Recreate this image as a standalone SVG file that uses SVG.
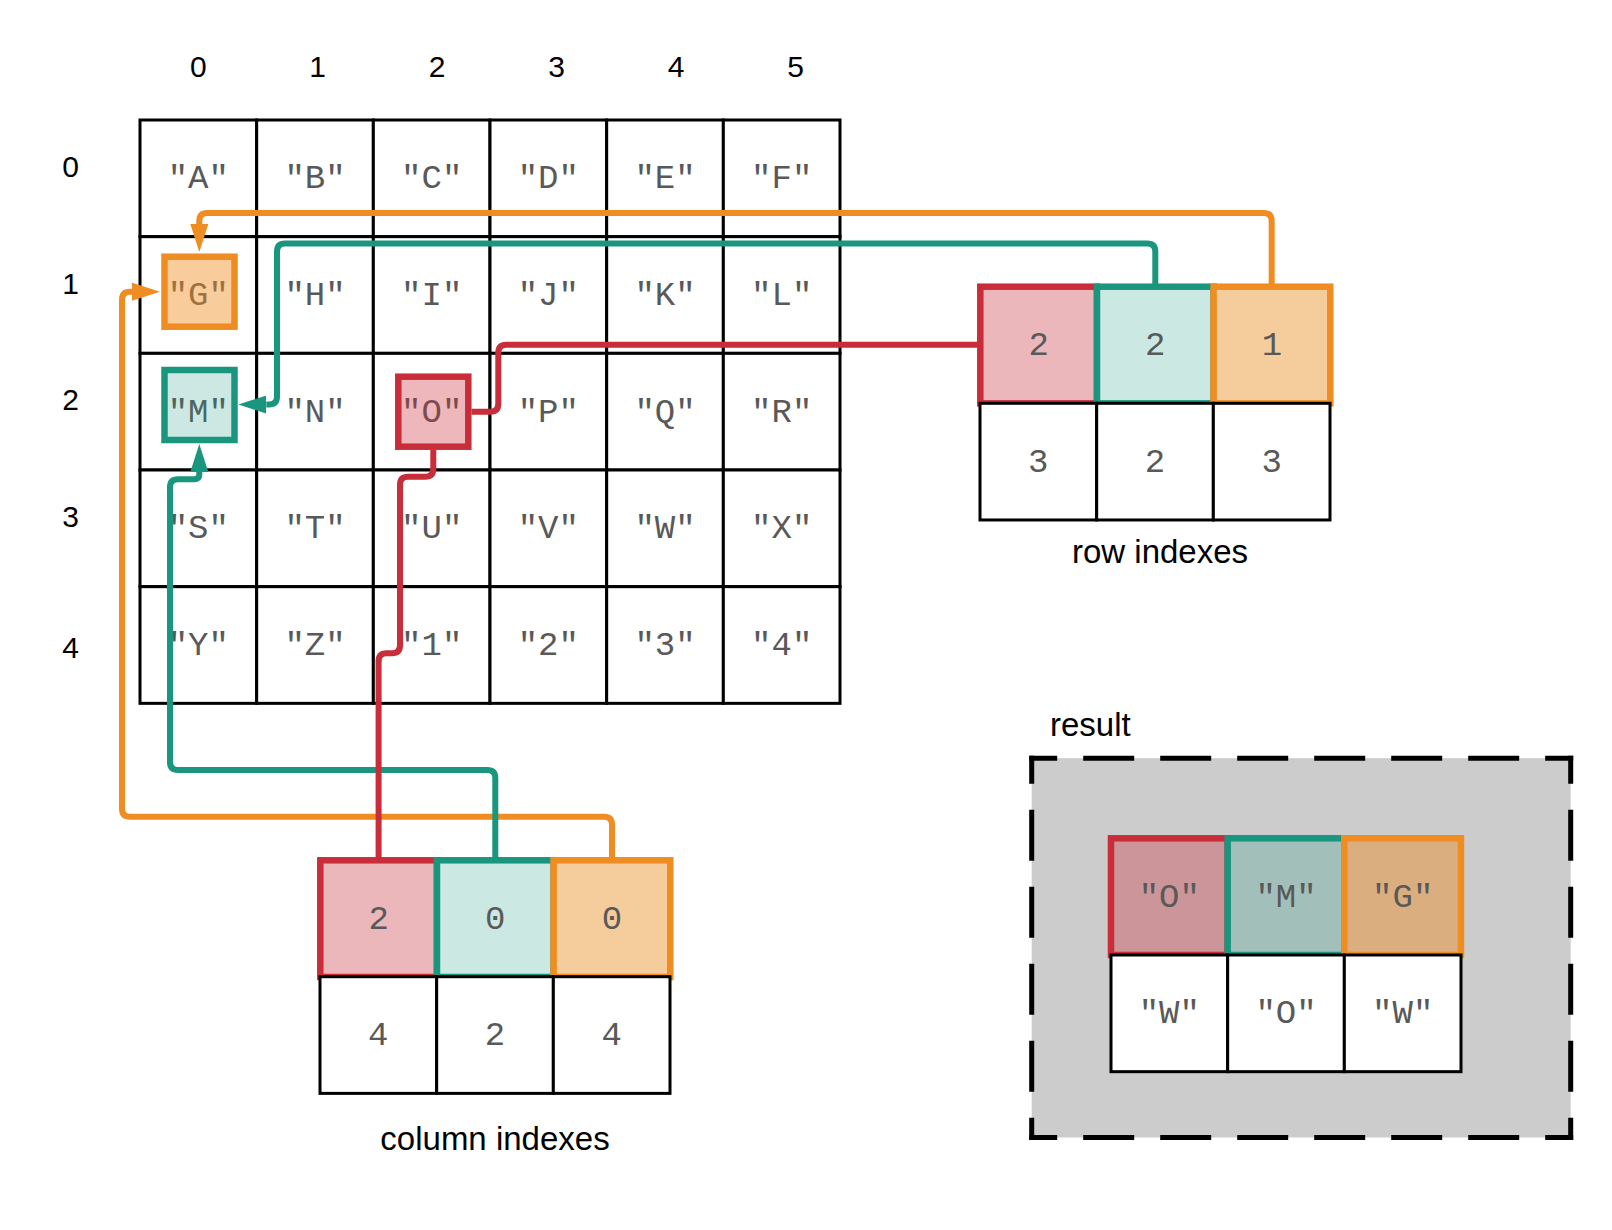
<svg xmlns="http://www.w3.org/2000/svg" width="1612" height="1230" viewBox="0 0 1612 1230">
<style>
.cell{fill:#fff;stroke:#000;stroke-width:3}
.mono{font-family:"Liberation Mono","DejaVu Sans Mono",monospace;font-size:34px;fill:#595959;text-anchor:middle}
.lbl{font-family:"Liberation Sans",Arial,sans-serif;font-size:30px;fill:#000;text-anchor:middle}
.cap{font-family:"Liberation Sans",Arial,sans-serif;font-size:33px;fill:#000}
.conn{fill:none;stroke-width:6;stroke-linejoin:round}
.red{stroke:#C92D39}
.teal{stroke:#1B967E}
.orange{stroke:#EF8D22}
.box{stroke-width:6.5}
.dash{stroke:#000;stroke-width:5;stroke-dasharray:51 26;stroke-dashoffset:23;fill:none}
</style>
<defs>
<marker id="arrO" markerUnits="userSpaceOnUse" markerWidth="28" markerHeight="18" refX="0" refY="9" orient="auto"><path d="M0,0 L28,9 L0,18 Z" fill="#EF8D22"/></marker>
<marker id="arrT" markerUnits="userSpaceOnUse" markerWidth="28" markerHeight="18" refX="0" refY="9" orient="auto"><path d="M0,0 L28,9 L0,18 Z" fill="#1B967E"/></marker>
</defs>
<rect width="1612" height="1230" fill="#fff"/>

<g id="col-labels" class="lbl">
<text x="198.3" y="77.3">0</text><text x="317.7" y="77.3">1</text><text x="437" y="77.3">2</text><text x="556.5" y="77.3">3</text><text x="676" y="77.3">4</text><text x="795.5" y="77.3">5</text>
</g>
<g id="row-labels" class="lbl">
<text x="70.7" y="177">0</text><text x="70.7" y="293.5">1</text><text x="70.7" y="410">2</text><text x="70.7" y="527">3</text><text x="70.7" y="657.5">4</text>
</g>

<g id="grid">
<g id="cell-0-0"><rect class="cell" x="140" y="120" width="116.67" height="116.67"/><text class="mono" x="198.3" y="188.3">"A"</text></g>
<g id="cell-0-1"><rect class="cell" x="256.67" y="120" width="116.67" height="116.67"/><text class="mono" x="315" y="188.3">"B"</text></g>
<g id="cell-0-2"><rect class="cell" x="373.33" y="120" width="116.67" height="116.67"/><text class="mono" x="431.7" y="188.3">"C"</text></g>
<g id="cell-0-3"><rect class="cell" x="490" y="120" width="116.67" height="116.67"/><text class="mono" x="548.3" y="188.3">"D"</text></g>
<g id="cell-0-4"><rect class="cell" x="606.67" y="120" width="116.67" height="116.67"/><text class="mono" x="665" y="188.3">"E"</text></g>
<g id="cell-0-5"><rect class="cell" x="723.33" y="120" width="116.67" height="116.67"/><text class="mono" x="781.7" y="188.3">"F"</text></g>

<g id="cell-1-0"><rect class="cell" x="140" y="236.67" width="116.67" height="116.67"/><text class="mono" x="198.3" y="305">"G"</text></g>
<g id="cell-1-1"><rect class="cell" x="256.67" y="236.67" width="116.67" height="116.67"/><text class="mono" x="315" y="305">"H"</text></g>
<g id="cell-1-2"><rect class="cell" x="373.33" y="236.67" width="116.67" height="116.67"/><text class="mono" x="431.7" y="305">"I"</text></g>
<g id="cell-1-3"><rect class="cell" x="490" y="236.67" width="116.67" height="116.67"/><text class="mono" x="548.3" y="305">"J"</text></g>
<g id="cell-1-4"><rect class="cell" x="606.67" y="236.67" width="116.67" height="116.67"/><text class="mono" x="665" y="305">"K"</text></g>
<g id="cell-1-5"><rect class="cell" x="723.33" y="236.67" width="116.67" height="116.67"/><text class="mono" x="781.7" y="305">"L"</text></g>

<g id="cell-2-0"><rect class="cell" x="140" y="353.33" width="116.67" height="116.67"/><text class="mono" x="198.3" y="421.7">"M"</text></g>
<g id="cell-2-1"><rect class="cell" x="256.67" y="353.33" width="116.67" height="116.67"/><text class="mono" x="315" y="421.7">"N"</text></g>
<g id="cell-2-2"><rect class="cell" x="373.33" y="353.33" width="116.67" height="116.67"/><text class="mono" x="431.7" y="421.7">"O"</text></g>
<g id="cell-2-3"><rect class="cell" x="490" y="353.33" width="116.67" height="116.67"/><text class="mono" x="548.3" y="421.7">"P"</text></g>
<g id="cell-2-4"><rect class="cell" x="606.67" y="353.33" width="116.67" height="116.67"/><text class="mono" x="665" y="421.7">"Q"</text></g>
<g id="cell-2-5"><rect class="cell" x="723.33" y="353.33" width="116.67" height="116.67"/><text class="mono" x="781.7" y="421.7">"R"</text></g>

<g id="cell-3-0"><rect class="cell" x="140" y="470" width="116.67" height="116.67"/><text class="mono" x="198.3" y="538.3">"S"</text></g>
<g id="cell-3-1"><rect class="cell" x="256.67" y="470" width="116.67" height="116.67"/><text class="mono" x="315" y="538.3">"T"</text></g>
<g id="cell-3-2"><rect class="cell" x="373.33" y="470" width="116.67" height="116.67"/><text class="mono" x="431.7" y="538.3">"U"</text></g>
<g id="cell-3-3"><rect class="cell" x="490" y="470" width="116.67" height="116.67"/><text class="mono" x="548.3" y="538.3">"V"</text></g>
<g id="cell-3-4"><rect class="cell" x="606.67" y="470" width="116.67" height="116.67"/><text class="mono" x="665" y="538.3">"W"</text></g>
<g id="cell-3-5"><rect class="cell" x="723.33" y="470" width="116.67" height="116.67"/><text class="mono" x="781.7" y="538.3">"X"</text></g>

<g id="cell-4-0"><rect class="cell" x="140" y="586.67" width="116.67" height="116.67"/><text class="mono" x="198.3" y="655">"Y"</text></g>
<g id="cell-4-1"><rect class="cell" x="256.67" y="586.67" width="116.67" height="116.67"/><text class="mono" x="315" y="655">"Z"</text></g>
<g id="cell-4-2"><rect class="cell" x="373.33" y="586.67" width="116.67" height="116.67"/><text class="mono" x="431.7" y="655">"1"</text></g>
<g id="cell-4-3"><rect class="cell" x="490" y="586.67" width="116.67" height="116.67"/><text class="mono" x="548.3" y="655">"2"</text></g>
<g id="cell-4-4"><rect class="cell" x="606.67" y="586.67" width="116.67" height="116.67"/><text class="mono" x="665" y="655">"3"</text></g>
<g id="cell-4-5"><rect class="cell" x="723.33" y="586.67" width="116.67" height="116.67"/><text class="mono" x="781.7" y="655">"4"</text></g>
</g>

<g id="hl-G"><rect class="orange box" x="164.5" y="256.7" width="70" height="70" fill="#EF8D22" fill-opacity="0.45"/></g>
<g id="hl-M"><rect class="teal box" x="164.5" y="370" width="70" height="70" fill="#1B967E" fill-opacity="0.22"/></g>
<g id="hl-O"><rect class="red box" x="398.3" y="376.7" width="70" height="70" fill="#C92D39" fill-opacity="0.34"/></g>

<g id="row-indexes">
<g id="ri-0"><rect class="red box" x="980.3" y="286.7" width="116.67" height="116.67" fill="#EBB7BB"/><text class="mono" x="1038.6" y="355">2</text></g>
<g id="ri-1"><rect class="teal box" x="1097" y="286.7" width="116.67" height="116.67" fill="#CCE8E2"/><text class="mono" x="1155.3" y="355">2</text></g>
<g id="ri-2"><rect class="orange box" x="1213.6" y="286.7" width="116.67" height="116.67" fill="#F5CC9B"/><text class="mono" x="1272" y="355">1</text></g>
<g id="ri-3"><rect class="cell" x="980" y="403.3" width="116.67" height="116.67"/><text class="mono" x="1038.3" y="472">3</text></g>
<g id="ri-4"><rect class="cell" x="1096.67" y="403.3" width="116.67" height="116.67"/><text class="mono" x="1155" y="472">2</text></g>
<g id="ri-5"><rect class="cell" x="1213.33" y="403.3" width="116.67" height="116.67"/><text class="mono" x="1271.7" y="472">3</text></g>
<text class="cap" x="1160" y="563.3" text-anchor="middle">row indexes</text>
</g>

<g id="column-indexes">
<g id="ci-0"><rect class="red box" x="320.3" y="860.3" width="116.67" height="116.67" fill="#EBB7BB"/><text class="mono" x="378.6" y="928.5">2</text></g>
<g id="ci-1"><rect class="teal box" x="437" y="860.3" width="116.67" height="116.67" fill="#CCE8E2"/><text class="mono" x="495.3" y="928.5">0</text></g>
<g id="ci-2"><rect class="orange box" x="553.6" y="860.3" width="116.67" height="116.67" fill="#F5CC9B"/><text class="mono" x="612" y="928.5">0</text></g>
<g id="ci-3"><rect class="cell" x="320" y="976.7" width="116.67" height="116.67"/><text class="mono" x="378.3" y="1045">4</text></g>
<g id="ci-4"><rect class="cell" x="436.67" y="976.7" width="116.67" height="116.67"/><text class="mono" x="495" y="1045">2</text></g>
<g id="ci-5"><rect class="cell" x="553.33" y="976.7" width="116.67" height="116.67"/><text class="mono" x="611.7" y="1045">4</text></g>
<text class="cap" x="495" y="1150" text-anchor="middle">column indexes</text>
</g>

<g id="result">
<text class="cap" x="1050" y="736">result</text>
<rect x="1031.7" y="758.2" width="539" height="379.3" fill="#CCCCCC"/>
<path class="dash" d="M1029.2,758.2 H1573.2"/>
<path class="dash" d="M1031.7,755.7 V1140"/>
<path class="dash" d="M1570.7,755.7 V1140"/>
<path class="dash" d="M1029.2,1137.5 H1573.2"/>
<g id="res-0"><rect class="red box" x="1111" y="838.3" width="116.67" height="116.67" fill="#CC9599"/><text class="mono" x="1169.3" y="906.7">"O"</text></g>
<g id="res-1"><rect class="teal box" x="1227.7" y="838.3" width="116.67" height="116.67" fill="#A3BFB9"/><text class="mono" x="1286" y="906.7">"M"</text></g>
<g id="res-2"><rect class="orange box" x="1344.3" y="838.3" width="116.67" height="116.67" fill="#DBAE80"/><text class="mono" x="1402.7" y="906.7">"G"</text></g>
<g id="res-3"><rect class="cell" x="1111" y="955" width="116.67" height="116.67"/><text class="mono" x="1169.3" y="1023">"W"</text></g>
<g id="res-4"><rect class="cell" x="1227.67" y="955" width="116.67" height="116.67"/><text class="mono" x="1286" y="1023">"O"</text></g>
<g id="res-5"><rect class="cell" x="1344.33" y="955" width="116.67" height="116.67"/><text class="mono" x="1402.7" y="1023">"W"</text></g>
</g>

<g id="connectors">
<path class="conn orange" d="M1271.7,284 V221 Q1271.7,213 1263.7,213 H207.3 Q199.3,213 199.3,221 V224" marker-end="url(#arrO)"/>
<path class="conn orange" d="M612,858 V824.7 Q612,816.7 604,816.7 H130 Q122,816.7 122,808.7 V299.7 Q122,291.7 130,291.7 H132" marker-end="url(#arrO)"/>
<path class="conn teal" d="M1155.3,284 V251.5 Q1155.3,243.5 1147.3,243.5 H285 Q277,243.5 277,251.5 V396.5 Q277,404.5 269,404.5 H266.3" marker-end="url(#arrT)"/>
<path class="conn teal" d="M495.3,858 V778 Q495.3,770 487.3,770 H178 Q170,770 170,762 V487.3 Q170,479.3 178,479.3 H194.3 Q199.3,479.3 199.3,474.3 V472" marker-end="url(#arrT)"/>
<path class="conn red" d="M978,344.7 H506.3 Q498.3,344.7 498.3,352.7 V403.7 Q498.3,411.7 490.3,411.7 H471.5"/>
<path class="conn red" d="M378.6,858 V661.3 Q378.6,653.3 386.6,653.3 H392 Q400,653.3 400,645.3 V484.7 Q400,476.7 408,476.7 H425.3 Q433.3,476.7 433.3,468.7 V450"/>
</g>
</svg>
